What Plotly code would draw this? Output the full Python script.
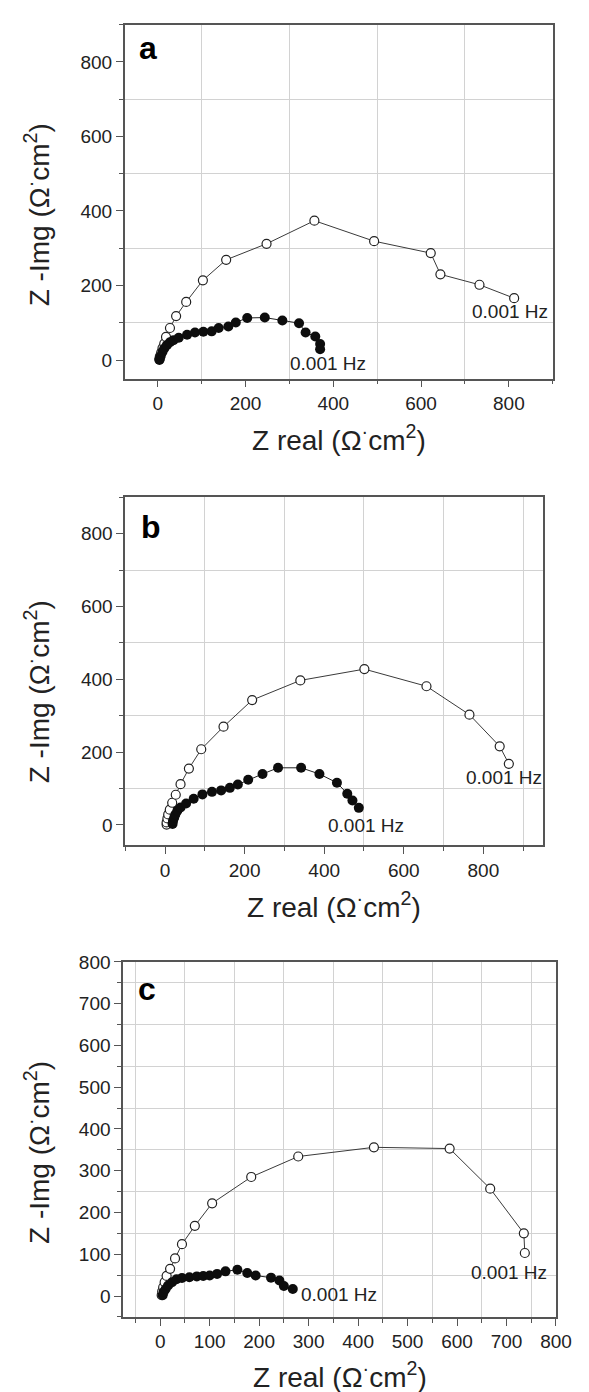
import plotly.graph_objects as go

W, H = 589, 1392
FONT = "Liberation Sans, Arial, sans-serif"

# ---------------- data ----------------
# panel a
a_open_x = [4, 5, 8, 11, 15, 19, 28, 42, 65, 103, 156, 248, 357, 493, 622, 644, 733, 812]
a_open_y = [3, 10, 20, 32, 44, 62, 86, 118, 156, 214, 269, 312, 374, 319, 287, 230, 202, 166]
a_fill_x = [4, 4.5, 7, 11, 15, 21, 28, 36, 48, 67, 85, 104, 123, 139, 161, 178, 204, 244, 284, 322, 337, 359, 370, 370]
a_fill_y = [0, 3, 11, 22, 31, 40, 48, 53, 60, 68, 74, 76, 77, 86, 90, 101, 113, 114, 106, 99, 74, 63, 43, 29]
# panel b
b_open_x = [4, 4, 6, 8, 12, 18, 27, 39, 60, 91, 147, 219, 340, 501, 657, 765, 841, 864]
b_open_y = [1, 7, 18, 29, 42, 61, 83, 112, 155, 208, 270, 343, 397, 428, 381, 303, 216, 168]
b_fill_x = [19, 20, 23, 26, 31, 39, 53, 72, 94, 118, 141, 163, 183, 209, 245, 284, 342, 388, 432, 458, 471, 487]
b_fill_y = [3, 11, 20, 29, 39, 48, 59, 72, 84, 91, 95, 102, 111, 124, 140, 157, 157, 140, 116, 86, 67, 47]
# panel c
c_open_x = [3, 4, 6, 9, 13, 20, 30, 44, 70, 105, 184, 279, 432, 585, 667, 735, 737]
c_open_y = [2, 11, 21, 33, 48, 65, 90, 124, 168, 222, 285, 334, 356, 353, 257, 150, 103]
c_fill_x = [5, 7, 11, 16, 24, 33, 44, 59, 74, 87, 100, 115, 132, 156, 176, 193, 224, 241, 250, 268]
c_fill_y = [2, 9.5, 17, 25, 33, 40, 43, 45, 47, 48, 49, 53, 59, 63, 55, 49, 44, 37, 24, 17]

panel_letters = ["a", "b", "c"]
freq_label = "0.001 Hz"
x_title = "Z real (Ω<sup>·</sup>cm<sup>2</sup>)"
y_title = "Z -Img (Ω<sup>·</sup>cm<sup>2</sup>)"

# ---------------- layout helpers ----------------
def px_x(p):
    return p / W

def px_y(p):
    return 1 - p / H

def axis(domain, rng, dtick, mdtick, anchor):
    return dict(
        domain=domain, range=rng, anchor=anchor,
        showline=True, linecolor="#555", linewidth=1.5, mirror=True,
        ticks="outside", ticklen=7, tickwidth=1.3, tickcolor="#555",
        tick0=0, dtick=dtick,
        showgrid=False, zeroline=False,
        tickfont=dict(size=19, color="#222", family=FONT),
        minor=dict(dtick=mdtick, tick0=0, ticks="outside", ticklen=4, tickwidth=1.2,
                   tickcolor="#555", showgrid=True, gridcolor="#d2d2d2", gridwidth=1),
    )

fig = go.Figure()

panels = [
    (a_open_x, a_open_y, a_fill_x, a_fill_y, "x", "y"),
    (b_open_x, b_open_y, b_fill_x, b_fill_y, "x2", "y2"),
    (c_open_x, c_open_y, c_fill_x, c_fill_y, "x3", "y3"),
]
for ox, oy, fx, fy, xa, ya in panels:
    fig.add_trace(go.Scatter(
        x=ox, y=oy, xaxis=xa, yaxis=ya, mode="lines+markers",
        line=dict(color="#3a3a3a", width=1),
        marker=dict(symbol="circle", size=9, color="white", line=dict(color="#222", width=1.2)),
        showlegend=False, hoverinfo="skip"))
    fig.add_trace(go.Scatter(
        x=fx, y=fy, xaxis=xa, yaxis=ya, mode="lines+markers",
        line=dict(color="#222", width=1),
        marker=dict(symbol="circle", size=10, color="#0d0d0d", line=dict(color="#0d0d0d", width=0)),
        showlegend=False, hoverinfo="skip"))

fig.update_layout(
    width=W, height=H, autosize=False,
    margin=dict(l=0, r=0, t=0, b=0),
    paper_bgcolor="white", plot_bgcolor="white",
    font=dict(family=FONT, color="#222"),
    xaxis=axis([px_x(120), px_x(560)], [-75, 900], 200, 100, "y"),
    yaxis=axis([px_y(363.3), px_y(6.7)], [-50, 900], 200, 100, "x"),
    xaxis2=axis([px_x(120.5), px_x(550)], [-100, 950], 200, 100, "y2"),
    yaxis2=axis([px_y(833), px_y(482.7)], [-55, 900], 200, 100, "x2"),
    xaxis3=axis([px_x(118.3), px_x(563.3)], [-75, 800], 100, 50, "y3"),
    yaxis3=axis([px_y(1308.3), px_y(950.7)], [-50, 800], 100, 50, "x3"),
)

ann = []
# axis titles
for cx, cy in [(340, 423), (335, 893), (341, 1367)]:
    ann.append(dict(text=x_title, x=px_x(cx), y=px_y(cy), xref="paper", yref="paper",
                    xanchor="center", yanchor="middle", showarrow=False,
                    font=dict(size=28, family=FONT, color="#222")))
for cy in [198.5, 679, 1143]:
    ann.append(dict(text=y_title, x=px_x(30), y=px_y(cy), xref="paper", yref="paper",
                    xanchor="center", yanchor="middle", showarrow=False, textangle=-90,
                    font=dict(size=28, family=FONT, color="#222")))
# panel letters
for letter, (cx, cy) in zip(panel_letters, [(144, 30), (147, 513), (143, 978)]):
    ann.append(dict(text="<b>%s</b>" % letter, x=px_x(cx), y=px_y(cy), xref="paper", yref="paper",
                    xanchor="center", yanchor="middle", showarrow=False,
                    font=dict(size=32, family=FONT, color="#000")))
# frequency labels (data coordinates)
for (lx, ly, xr, yr) in [(389, -9, "x", "y"), (802, 131, "x", "y"),
                         (506, -2, "x2", "y2"), (852, 130, "x2", "y2"),
                         (362, 4, "x3", "y3"), (706, 56, "x3", "y3")]:
    ann.append(dict(text=freq_label, x=lx, y=ly, xref=xr, yref=yr,
                    xanchor="center", yanchor="middle", showarrow=False,
                    font=dict(size=19, family=FONT, color="#222")))
fig.update_layout(annotations=ann)

fig.write_html("out.html")
